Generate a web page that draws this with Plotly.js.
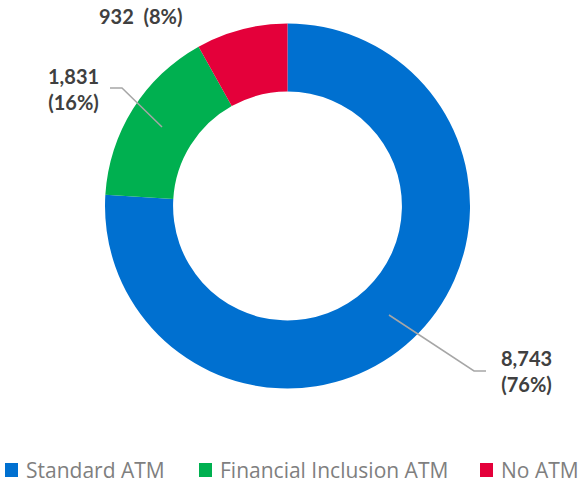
<!DOCTYPE html>
<html><head><meta charset="utf-8">
<script src="https://cdn.plot.ly/plotly-3.0.1.min.js"></script>
<style>body{margin:0;padding:0;background:#fff}#chart{width:580px;height:485px}</style>
</head><body><div id="chart"></div>
<script>
const categories = ["Standard ATM", "Financial Inclusion ATM", "No ATM"];
const values = [8743, 1831, 932];
const colors = ["#0070D0", "#00B050", "#E4003A"];

const total = values.reduce((a, b) => a + b, 0);
const fmt = v => v.toLocaleString("en-US");
const pct = v => Math.round(v / total * 100) + "%";

const W = 580, H = 485;
const px = x => x / W, py = y => 1 - y / H;

const labelFont = {family: "Lato, 'Noto Sans', sans-serif", size: 20, color: "#404040", weight: 700};

const annotations = [
  {x: px(141), y: py(16), text: "<b>" + fmt(values[2]) + "  (" + pct(values[2]) + ")</b>"},
  {x: px(73), y: py(89), text: "<b>" + fmt(values[1]) + "<br>(" + pct(values[1]) + ")</b>"},
  {x: px(526), y: py(371), text: "<b>" + fmt(values[0]) + "<br>(" + pct(values[0]) + ")</b>"}
].map(a => Object.assign({xref: "paper", yref: "paper", showarrow: false, font: labelFont,
  xanchor: "center", yanchor: "middle", align: "center"}, a));

const lineStyle = {color: "#A6A6A6", width: 1.5};
const shapes = [
  {type: "path", xref: "paper", yref: "paper",
   path: `M ${px(110)} ${py(88)} L ${px(122)} ${py(88)} L ${px(162)} ${py(127)}`, line: lineStyle},
  {type: "path", xref: "paper", yref: "paper",
   path: `M ${px(389)} ${py(315)} L ${px(474)} ${py(371)} L ${px(486)} ${py(371)}`, line: lineStyle}
];

// custom legend (layout positions)
const legendX = [5, 199, 480];
const legendY = 470;
categories.forEach((c, i) => {
  shapes.push({type: "rect", xref: "paper", yref: "paper",
    x0: px(legendX[i]), x1: px(legendX[i] + 13), y0: py(legendY - 7), y1: py(legendY + 7),
    fillcolor: colors[i], line: {width: 0}});
  annotations.push({xref: "paper", yref: "paper", showarrow: false,
    x: px(legendX[i] + 19), y: py(legendY), xanchor: "left", yanchor: "middle",
    text: c, font: {family: "'Open Sans', 'Noto Sans', sans-serif", size: 21, color: "#7F7F7F"}});
});

const data = [{
  type: "pie",
  labels: categories,
  values: values,
  hole: 0.627,
  sort: false,
  direction: "clockwise",
  rotation: 0,
  textinfo: "none",
  marker: {colors: colors, line: {color: "#ffffff", width: 0}},
  domain: {x: [px(105), px(470)], y: [py(389), py(23)]},
  hoverinfo: "label+value+percent"
}];

const layout = {
  width: W, height: H,
  margin: {l: 0, r: 0, t: 0, b: 0},
  paper_bgcolor: "#ffffff",
  showlegend: false,
  annotations: annotations,
  shapes: shapes
};

Plotly.newPlot("chart", data, layout, {displayModeBar: false, staticPlot: true});
</script></body></html>
